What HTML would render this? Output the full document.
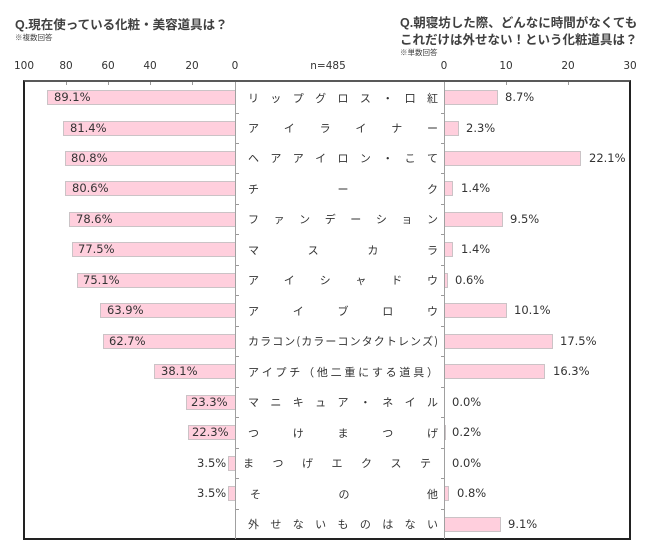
<!DOCTYPE html>
<html><head><meta charset="utf-8"><style>
html,body{margin:0;padding:0;background:#fff;}
body{width:650px;height:560px;position:relative;overflow:hidden;font-family:"DejaVu Sans","Noto Sans CJK JP",sans-serif;color:#333;}
.a{position:absolute;}
.t{font-family:"Liberation Sans","Noto Sans CJK JP",sans-serif;font-weight:bold;font-size:12.5px;color:#404040;white-space:nowrap;line-height:16px;}
.s{font-family:"Noto Sans CJK JP",sans-serif;font-size:7.5px;color:#404040;white-space:nowrap;line-height:9px;}
.ax{font-size:10.5px;color:#333;line-height:12px;width:40px;text-align:center;top:60px;}
.lb{font-family:"Noto Sans CJK JP",sans-serif;font-size:11px;color:#333;display:flex;justify-content:space-between;align-items:center;height:30px;left:248px;width:190px;line-height:14px;}
.bl{background:#ffcfdd;border:1px solid #cbc3c6;box-sizing:border-box;height:15px;}
.v{font-size:11.5px;line-height:15px;color:#333;white-space:nowrap;height:15px;}
.tk{background:#999;}
</style></head><body>
<div class="a t" style="left:15px;top:17px;">Q.現在使っている化粧・美容道具は？</div>
<div class="a s" style="left:15px;top:33px;">※複数回答</div>
<div class="a t" style="left:400px;top:15px;">Q.朝寝坊した際、どんなに時間がなくても</div>
<div class="a t" style="left:400px;top:32px;">これだけは外せない！という化粧道具は？</div>
<div class="a s" style="left:400px;top:48px;">※単数回答</div>

<div class="a ax" style="left:4px;">100</div>
<div class="a ax" style="left:46px;">80</div>
<div class="a ax" style="left:88px;">60</div>
<div class="a ax" style="left:130px;">40</div>
<div class="a ax" style="left:172px;">20</div>
<div class="a ax" style="left:215px;">0</div>
<div class="a ax" style="left:308px;">n=485</div>
<div class="a ax" style="left:424px;">0</div>
<div class="a ax" style="left:486px;">10</div>
<div class="a ax" style="left:548px;">20</div>
<div class="a ax" style="left:610px;">30</div>

<!-- frame -->
<div class="a" style="left:23px;top:80px;width:608px;height:460px;box-sizing:border-box;border:2px solid #222;border-top:2px solid #595959;"></div>
<!-- top ticks -->
<div class="a tk" style="left:66px;top:82px;width:1px;height:3px;"></div>
<div class="a tk" style="left:108px;top:82px;width:1px;height:3px;"></div>
<div class="a tk" style="left:150px;top:82px;width:1px;height:3px;"></div>
<div class="a tk" style="left:192px;top:82px;width:1px;height:3px;"></div>
<div class="a tk" style="left:506px;top:82px;width:1px;height:3px;"></div>
<div class="a tk" style="left:568px;top:82px;width:1px;height:3px;"></div>

<!-- left bars -->
<div class="a bl" style="left:47px;top:90px;width:189px;"></div>
<div class="a bl" style="left:63px;top:120.5px;width:173px;"></div>
<div class="a bl" style="left:64.5px;top:151px;width:171.5px;"></div>
<div class="a bl" style="left:65px;top:181.4px;width:171px;"></div>
<div class="a bl" style="left:69px;top:212px;width:167px;"></div>
<div class="a bl" style="left:71.5px;top:242.4px;width:164.5px;"></div>
<div class="a bl" style="left:76.5px;top:272.8px;width:159.5px;"></div>
<div class="a bl" style="left:100px;top:303.3px;width:136px;"></div>
<div class="a bl" style="left:102.5px;top:333.8px;width:133.5px;"></div>
<div class="a bl" style="left:154px;top:364.2px;width:82px;"></div>
<div class="a bl" style="left:185.5px;top:394.7px;width:50.5px;"></div>
<div class="a bl" style="left:187.5px;top:425.2px;width:48.5px;"></div>
<div class="a bl" style="left:227.5px;top:455.6px;width:8.5px;"></div>
<div class="a bl" style="left:227.5px;top:486.1px;width:8.5px;"></div>

<!-- left values -->
<div class="a v" style="left:54px;top:90px;">89.1%</div>
<div class="a v" style="left:70px;top:120.5px;">81.4%</div>
<div class="a v" style="left:71px;top:151px;">80.8%</div>
<div class="a v" style="left:72px;top:181.4px;">80.6%</div>
<div class="a v" style="left:76px;top:212px;">78.6%</div>
<div class="a v" style="left:78px;top:242.4px;">77.5%</div>
<div class="a v" style="left:83px;top:272.8px;">75.1%</div>
<div class="a v" style="left:107px;top:303.3px;">63.9%</div>
<div class="a v" style="left:109px;top:333.8px;">62.7%</div>
<div class="a v" style="left:161px;top:364.2px;">38.1%</div>
<div class="a v" style="left:191px;top:394.7px;">23.3%</div>
<div class="a v" style="left:192px;top:425.2px;">22.3%</div>
<div class="a v" style="left:197px;top:455.6px;">3.5%</div>
<div class="a v" style="left:197px;top:486.1px;">3.5%</div>

<!-- right bars -->
<div class="a bl" style="left:444px;top:90px;width:54px;"></div>
<div class="a bl" style="left:444px;top:120.5px;width:14.5px;"></div>
<div class="a bl" style="left:444px;top:151px;width:137px;"></div>
<div class="a bl" style="left:444px;top:181.4px;width:9px;"></div>
<div class="a bl" style="left:444px;top:212px;width:59px;"></div>
<div class="a bl" style="left:444px;top:242.4px;width:9px;"></div>
<div class="a bl" style="left:444px;top:272.8px;width:4px;"></div>
<div class="a bl" style="left:444px;top:303.3px;width:62.5px;"></div>
<div class="a bl" style="left:444px;top:333.8px;width:108.5px;"></div>
<div class="a bl" style="left:444px;top:364.2px;width:101px;"></div>
<div class="a bl" style="left:444px;top:425.2px;width:1.5px;"></div>
<div class="a bl" style="left:444px;top:486.1px;width:5px;"></div>
<div class="a bl" style="left:444px;top:516.6px;width:56.5px;"></div>

<!-- right values -->
<div class="a v" style="left:505px;top:90px;">8.7%</div>
<div class="a v" style="left:466px;top:120.5px;">2.3%</div>
<div class="a v" style="left:589px;top:151px;">22.1%</div>
<div class="a v" style="left:461px;top:181.4px;">1.4%</div>
<div class="a v" style="left:510px;top:212px;">9.5%</div>
<div class="a v" style="left:461px;top:242.4px;">1.4%</div>
<div class="a v" style="left:455px;top:272.8px;">0.6%</div>
<div class="a v" style="left:514px;top:303.3px;">10.1%</div>
<div class="a v" style="left:560px;top:333.8px;">17.5%</div>
<div class="a v" style="left:553px;top:364.2px;">16.3%</div>
<div class="a v" style="left:452px;top:394.7px;">0.0%</div>
<div class="a v" style="left:452px;top:425.2px;">0.2%</div>
<div class="a v" style="left:452px;top:455.6px;">0.0%</div>
<div class="a v" style="left:457px;top:486.1px;">0.8%</div>
<div class="a v" style="left:508px;top:516.6px;">9.1%</div>

<!-- axis lines -->
<div class="a" style="left:235px;top:82px;width:1px;height:457px;background:#a0a0a0;"></div>
<div class="a" style="left:444px;top:82px;width:1px;height:457px;background:#a0a0a0;"></div>
<!-- axis ticks -->
<div class="a tk" style="left:236px;top:112.5px;width:3px;height:1px;"></div>
<div class="a tk" style="left:236px;top:143px;width:3px;height:1px;"></div>
<div class="a tk" style="left:236px;top:173.4px;width:3px;height:1px;"></div>
<div class="a tk" style="left:236px;top:203.9px;width:3px;height:1px;"></div>
<div class="a tk" style="left:236px;top:234.4px;width:3px;height:1px;"></div>
<div class="a tk" style="left:236px;top:264.8px;width:3px;height:1px;"></div>
<div class="a tk" style="left:236px;top:295.3px;width:3px;height:1px;"></div>
<div class="a tk" style="left:236px;top:325.8px;width:3px;height:1px;"></div>
<div class="a tk" style="left:236px;top:356.2px;width:3px;height:1px;"></div>
<div class="a tk" style="left:236px;top:386.7px;width:3px;height:1px;"></div>
<div class="a tk" style="left:236px;top:417.2px;width:3px;height:1px;"></div>
<div class="a tk" style="left:236px;top:447.6px;width:3px;height:1px;"></div>
<div class="a tk" style="left:236px;top:478.1px;width:3px;height:1px;"></div>
<div class="a tk" style="left:236px;top:508.6px;width:3px;height:1px;"></div>
<div class="a tk" style="left:441px;top:112.5px;width:3px;height:1px;"></div>
<div class="a tk" style="left:441px;top:143px;width:3px;height:1px;"></div>
<div class="a tk" style="left:441px;top:173.4px;width:3px;height:1px;"></div>
<div class="a tk" style="left:441px;top:203.9px;width:3px;height:1px;"></div>
<div class="a tk" style="left:441px;top:234.4px;width:3px;height:1px;"></div>
<div class="a tk" style="left:441px;top:264.8px;width:3px;height:1px;"></div>
<div class="a tk" style="left:441px;top:295.3px;width:3px;height:1px;"></div>
<div class="a tk" style="left:441px;top:325.8px;width:3px;height:1px;"></div>
<div class="a tk" style="left:441px;top:356.2px;width:3px;height:1px;"></div>
<div class="a tk" style="left:441px;top:386.7px;width:3px;height:1px;"></div>
<div class="a tk" style="left:441px;top:417.2px;width:3px;height:1px;"></div>
<div class="a tk" style="left:441px;top:447.6px;width:3px;height:1px;"></div>
<div class="a tk" style="left:441px;top:478.1px;width:3px;height:1px;"></div>
<div class="a tk" style="left:441px;top:508.6px;width:3px;height:1px;"></div>

<!-- category labels -->
<div class="a lb" style="top:82.5px;"><span>リ</span><span>ッ</span><span>プ</span><span>グ</span><span>ロ</span><span>ス</span><span>・</span><span>口</span><span>紅</span></div>
<div class="a lb" style="top:113px;"><span>ア</span><span>イ</span><span>ラ</span><span>イ</span><span>ナ</span><span>ー</span></div>
<div class="a lb" style="top:143.4px;"><span>ヘ</span><span>ア</span><span>ア</span><span>イ</span><span>ロ</span><span>ン</span><span>・</span><span>こ</span><span>て</span></div>
<div class="a lb" style="top:173.9px;"><span>チ</span><span>ー</span><span>ク</span></div>
<div class="a lb" style="top:204.4px;"><span>フ</span><span>ァ</span><span>ン</span><span>デ</span><span>ー</span><span>シ</span><span>ョ</span><span>ン</span></div>
<div class="a lb" style="top:234.8px;"><span>マ</span><span>ス</span><span>カ</span><span>ラ</span></div>
<div class="a lb" style="top:265.3px;"><span>ア</span><span>イ</span><span>シ</span><span>ャ</span><span>ド</span><span>ウ</span></div>
<div class="a lb" style="top:295.8px;"><span>ア</span><span>イ</span><span>ブ</span><span>ロ</span><span>ウ</span></div>
<div class="a lb" style="top:326.3px;"><span>カ</span><span>ラ</span><span>コ</span><span>ン</span><span>(</span><span>カ</span><span>ラ</span><span>ー</span><span>コ</span><span>ン</span><span>タ</span><span>ク</span><span>ト</span><span>レ</span><span>ン</span><span>ズ</span><span>)</span></div>
<div class="a lb" style="top:356.7px;"><span>ア</span><span>イ</span><span>プ</span><span>チ</span><span>（</span><span>他</span><span>二</span><span>重</span><span>に</span><span>す</span><span>る</span><span>道</span><span>具</span><span>）</span></div>
<div class="a lb" style="top:387.2px;"><span>マ</span><span>ニ</span><span>キ</span><span>ュ</span><span>ア</span><span>・</span><span>ネ</span><span>イ</span><span>ル</span></div>
<div class="a lb" style="top:417.7px;"><span>つ</span><span>け</span><span>ま</span><span>つ</span><span>げ</span></div>
<div class="a lb" style="top:448.1px;left:243px;width:188px;"><span>ま</span><span>つ</span><span>げ</span><span>エ</span><span>ク</span><span>ス</span><span>テ</span></div>
<div class="a lb" style="top:478.6px;left:250px;width:188px;"><span>そ</span><span>の</span><span>他</span></div>
<div class="a lb" style="top:509.1px;"><span>外</span><span>せ</span><span>な</span><span>い</span><span>も</span><span>の</span><span>は</span><span>な</span><span>い</span></div>
</body></html>
